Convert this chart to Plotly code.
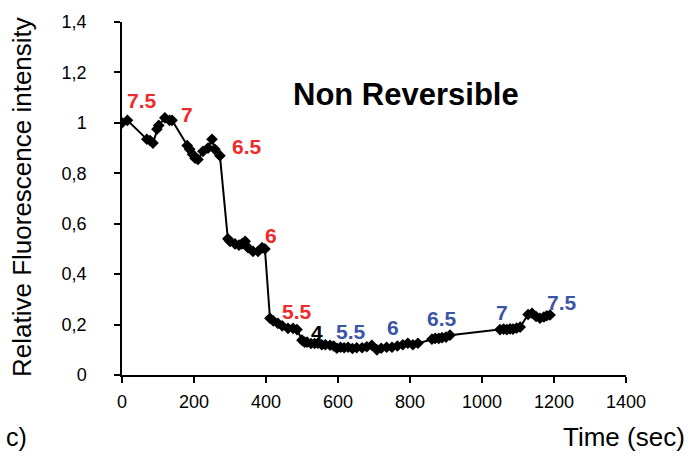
import plotly.graph_objects as go

# Time (sec) and relative fluorescence intensity
time_s = [0, 15, 69, 78, 86, 97, 102, 119, 132, 139, 181, 188, 196, 203, 211, 225, 239, 250, 258, 272,
          294, 300, 314, 325, 333, 342, 350, 364, 378, 389, 397,
          411, 420, 433, 445, 461, 475, 486,
          500, 507, 514, 525, 535, 544, 555, 565, 578, 588,
          597, 607, 617, 628, 640, 652, 667, 680, 694,
          708, 720, 735, 750, 765, 780, 794, 808, 822,
          861, 870, 880, 889, 900, 911,
          1050, 1060, 1069, 1078, 1086, 1096, 1106,
          1128, 1139, 1150, 1161, 1172, 1180, 1189]
intensity = [1.00, 1.01, 0.935, 0.93, 0.92, 0.975, 0.99, 1.02, 1.01, 1.01, 0.91, 0.895, 0.875, 0.86, 0.855, 0.887, 0.90, 0.935, 0.895, 0.87,
             0.54, 0.53, 0.52, 0.515, 0.52, 0.53, 0.505, 0.49, 0.49, 0.505, 0.50,
             0.225, 0.215, 0.205, 0.195, 0.185, 0.185, 0.18,
             0.138, 0.13, 0.13, 0.125, 0.125, 0.126, 0.12, 0.12, 0.118, 0.115,
             0.106, 0.11, 0.108, 0.11, 0.105, 0.108, 0.108, 0.112, 0.118,
             0.10, 0.106, 0.11, 0.11, 0.115, 0.12, 0.126, 0.12, 0.126,
             0.142, 0.145, 0.145, 0.148, 0.15, 0.158,
             0.18, 0.182, 0.18, 0.183, 0.182, 0.186, 0.19,
             0.24, 0.245, 0.232, 0.225, 0.23, 0.235, 0.238]

# pH labels
ph_text = ["7.5", "7", "6.5", "6", "5.5", "4", "5.5", "6", "6.5", "7", "7.5"]
ph_x = [56, 181, 347, 414, 486, 542, 636, 753, 889, 1056, 1222]
ph_y = [1.088, 1.032, 0.907, 0.552, 0.252, 0.17, 0.173, 0.189, 0.225, 0.248, 0.288]
ph_color = ["#EE2B2B"] * 5 + ["#000000"] + ["#3B55A5"] * 5

y_ticks = [0, 0.2, 0.4, 0.6, 0.8, 1.0, 1.2, 1.4]
y_ticktext = ["0", "0,2", "0,4", "0,6", "0,8", "1", "1,2", "1,4"]
x_ticks = [0, 200, 400, 600, 800, 1000, 1200, 1400]

FONT = "Liberation Sans, Arial, sans-serif"

fig = go.Figure()
fig.add_trace(go.Scatter(
    x=time_s, y=intensity, mode="lines+markers",
    line=dict(color="black", width=2),
    marker=dict(symbol="diamond", size=9, color="black"),
    showlegend=False, hoverinfo="skip"))

annotations = []
for t, x, y, c in zip(ph_text, ph_x, ph_y, ph_color):
    annotations.append(dict(x=x, y=y, xref="x", yref="y", text="<b>%s</b>" % t,
                            xanchor="center", yanchor="middle",
                            showarrow=False, font=dict(family=FONT, size=21, color=c)))
annotations.append(dict(x=789, y=1.112, xref="x", yref="y", text="<b>Non Reversible</b>",
                        xanchor="center", yanchor="middle",
                        showarrow=False, font=dict(family=FONT, size=31, color="black")))
annotations.append(dict(x=22, y=196, xref="paper", yref="paper", text="Relative Fluorescence intensity",
                        xanchor="center", yanchor="middle",
                        showarrow=False, textangle=-90, font=dict(family=FONT, size=26, color="black")))
annotations.append(dict(x=687, y=437, xref="paper", yref="paper", text="Time (sec)",
                        xanchor="right", yanchor="middle",
                        showarrow=False, font=dict(family=FONT, size=26, color="black")))
annotations.append(dict(x=4, y=437, xref="paper", yref="paper", text="c)",
                        xanchor="left", yanchor="middle",
                        showarrow=False, font=dict(family=FONT, size=25, color="black")))

# convert pixel positions for paper-referenced annotations
W, H = 691, 461
ML, MR, MT, MB = 122, 65, 20, 86
pw, ph = W - ML - MR, H - MT - MB
for a in annotations:
    if a["xref"] == "paper":
        a["x"] = (a["x"] - ML) / pw
        a["y"] = (H - MB - a["y"]) / ph

fig.update_layout(
    width=W, height=H,
    margin=dict(l=ML, r=MR, t=MT, b=MB),
    paper_bgcolor="white", plot_bgcolor="white",
    font=dict(family=FONT, color="black"),
    annotations=annotations,
    xaxis=dict(range=[0, 1400], tickvals=x_ticks, showgrid=False, zeroline=False,
               showline=True, linecolor="black", linewidth=1.5,
               ticks="outside", ticklen=6, tickwidth=1.5, tickcolor="black",
               tickfont=dict(family=FONT, size=18, color="black"), ticklabelstandoff=4),
    yaxis=dict(range=[0, 1.4], tickvals=y_ticks, ticktext=y_ticktext, showgrid=False, zeroline=False,
               showline=True, linecolor="black", linewidth=1.5,
               ticks="outside", ticklen=6, tickwidth=1.5, tickcolor="black",
               tickfont=dict(family=FONT, size=18, color="black"), ticklabelstandoff=24),
)

fig.write_html("out.html", config={"displayModeBar": False},
               post_script="document.body.style.margin='0';")
